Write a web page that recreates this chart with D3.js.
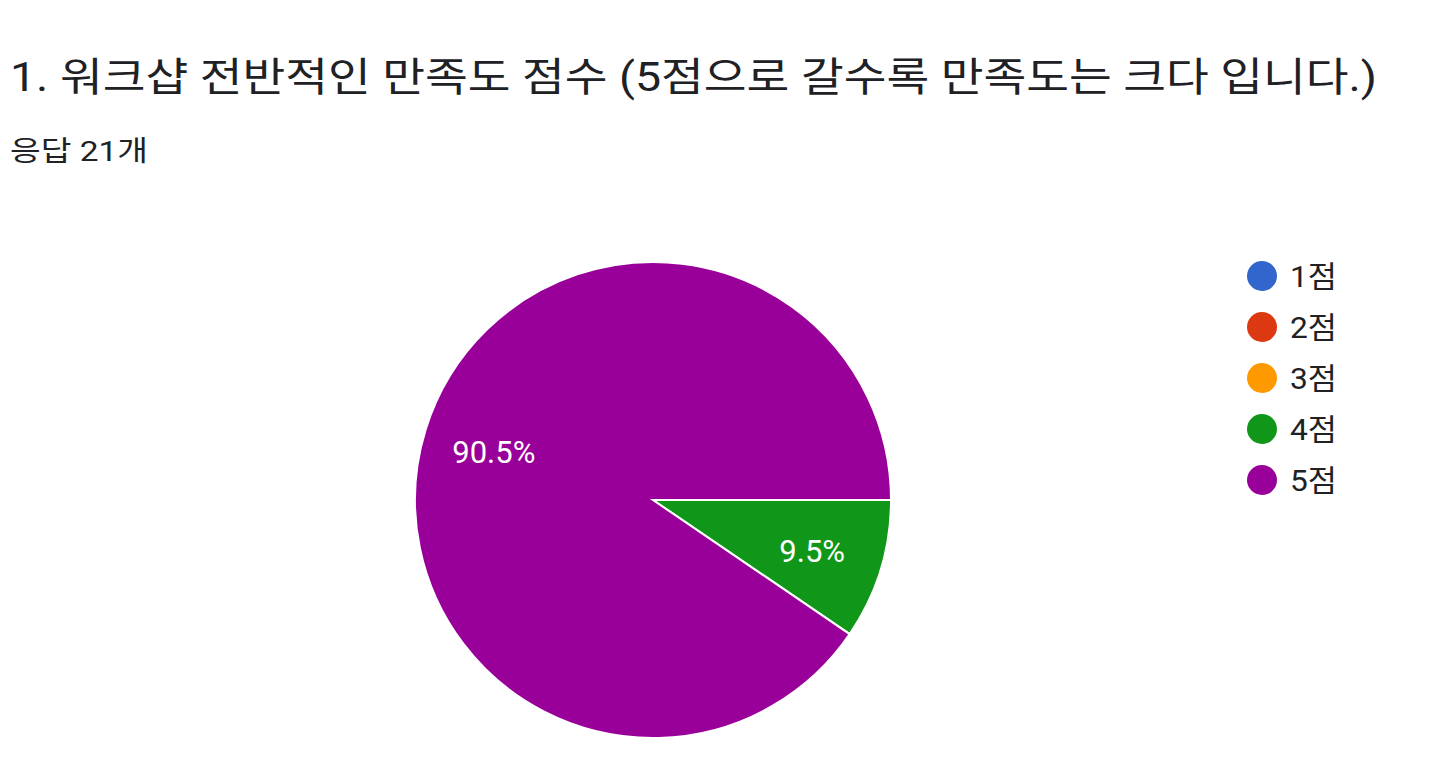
<!DOCTYPE html>
<html><head><meta charset="utf-8">
<script src="https://cdn.jsdelivr.net/npm/d3@7"></script>
<style>
body{margin:0;background:#fff;}
text{font-family:Roboto,"Noto Sans CJK KR",sans-serif;}
</style></head>
<body><svg id="c" width="1449" height="770"></svg>
<script>
const title = "1. 워크샵 전반적인 만족도 점수 (5점으로 갈수록 만족도는 크다 입니다.)";
const subtitle = "응답 21개";
const categories = ["1점","2점","3점","4점","5점"];
const counts = [0,0,0,2,19];
const colors = ["#3366cc","#dc3912","#ff9900","#109618","#990099"];

const svg = d3.select("#c");
svg.append("text").attr("x",10).attr("y",91).attr("font-size",40).attr("fill","#202124")
  .attr("textLength",1367).attr("lengthAdjust","spacingAndGlyphs").text(title);
svg.append("text").attr("x",10).attr("y",161).attr("font-size",28).attr("fill","#202124")
  .attr("textLength",138).attr("lengthAdjust","spacingAndGlyphs").text(subtitle);

const cx=653, cy=500, R=238;
const data = categories.map((c,i)=>({cat:c,v:counts[i],color:colors[i]}));
const total = d3.sum(counts);
const pie = d3.pie().value(d=>d.v).sort(null).startAngle(Math.PI/2).endAngle(Math.PI/2+2*Math.PI);
const arcs = pie(data).filter(a=>a.data.v>0);
const arc = d3.arc().innerRadius(0).outerRadius(R);
const labelArc = d3.arc().innerRadius(R*0.7).outerRadius(R*0.7);
const g = svg.append("g").attr("transform",`translate(${cx},${cy})`);
g.selectAll("path").data(arcs).join("path").attr("d",arc).attr("fill",d=>d.data.color).attr("stroke","#fff").attr("stroke-width",2);
g.selectAll("text").data(arcs).join("text")
 .attr("transform",d=>{const p=labelArc.centroid(d);return `translate(${p[0]},${p[1]+2})`;})
 .attr("text-anchor","middle").attr("dominant-baseline","central")
 .attr("font-size",31).attr("fill","#fff")
 .text(d=>(d.data.v/total*100).toFixed(1)+"%");

const lg = svg.append("g");
const item = lg.selectAll("g").data(data).join("g").attr("transform",(d,i)=>`translate(1262,${276+i*51})`);
item.append("circle").attr("r",15).attr("fill",d=>d.color);
item.append("text").attr("x",28).attr("dominant-baseline","central").attr("font-size",30).attr("fill","#202124")
  .attr("textLength",47).attr("lengthAdjust","spacingAndGlyphs").text(d=>d.cat);
</script></body></html>
